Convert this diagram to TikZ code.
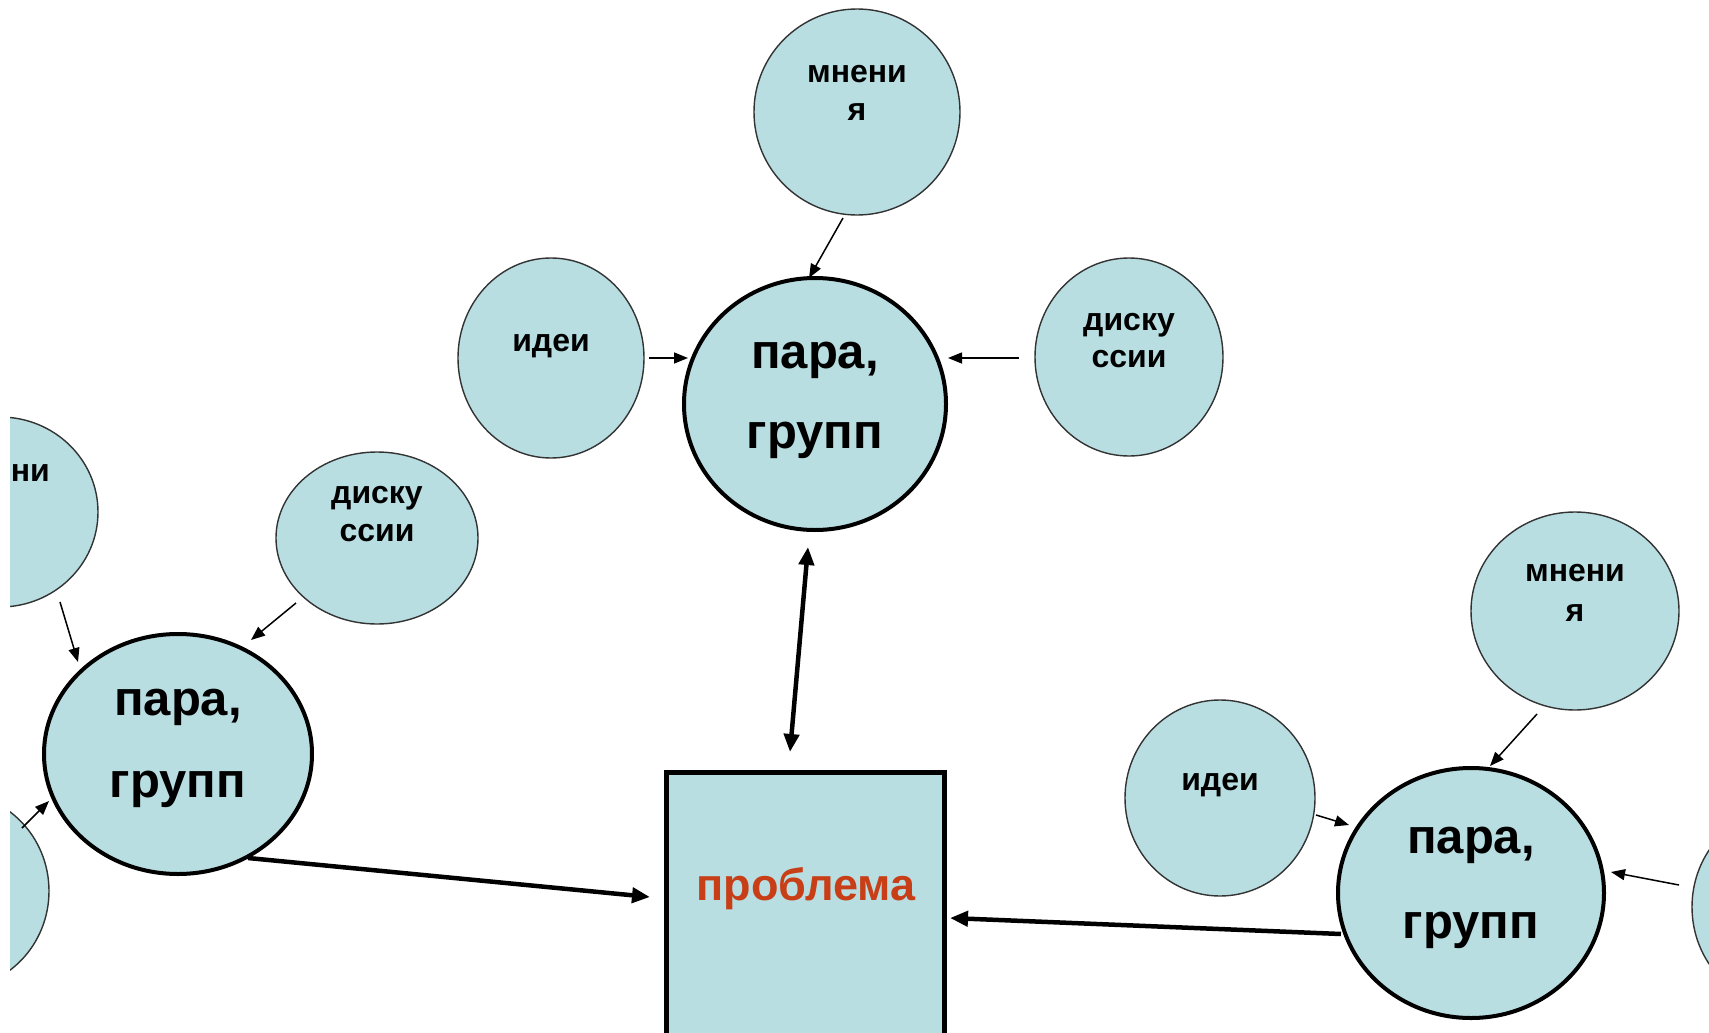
\documentclass[tikz,border=0pt]{standalone}
\usepackage{fontspec}
\setmainfont{Liberation Sans}
\usetikzlibrary{shapes.geometric,arrows.meta,calc}
\definecolor{cfill}{RGB}{184,222,226}
\definecolor{cred}{RGB}{200,62,22}
\begin{document}
\begin{tikzpicture}[x=1pt,y=-1pt,
 smallc/.style={ellipse, draw=black!80, line width=1.4pt, fill=cfill, inner sep=0pt},
 bigc/.style={ellipse, draw=black, line width=4pt, fill=cfill, inner sep=0pt},
 stxt/.style={font=\bfseries\fontsize{32}{38}\selectfont, anchor=base, inner sep=0pt},
 btxt/.style={font=\bfseries\fontsize{49}{56}\selectfont, anchor=base, inner sep=0pt},
 thinarr/.style={line width=1.5pt, -{Triangle[length=14pt,width=11pt]}},
 thickarr/.style={line width=4.5pt, -{Triangle[length=18pt,width=15pt]}},
 dblarr/.style={line width=4.5pt, {Triangle[length=18pt,width=15pt]}-{Triangle[length=18pt,width=15pt]}},
]
\useasboundingbox (0,0) rectangle (1709,1033);
\fill[white] (0,0) rectangle (1709,1033);
\begin{scope}
\clip (10,0) rectangle (1709,1033);
% top group
\node[smallc, minimum width=206pt, minimum height=206pt] (mt) at (857,112) {};
\node[smallc, minimum width=186pt, minimum height=200pt] (it) at (551,358) {};
\node[smallc, minimum width=188pt, minimum height=198pt] (dt) at (1129,357) {};
\node[bigc, minimum width=262pt, minimum height=252pt] (bt) at (815,404) {};
\node[stxt] (mt1) at (857,83) {мнени};
\node[stxt] (mt2) at (857,121) {я};
\node[stxt] (it1) at (551,351) {идеи};
\node[stxt] (dt1) at (1129,330) {диску};
\node[stxt] (dt2) at (1129,367) {ссии};
\node[btxt] (bt1) at (815,368) {пара,};
\node[btxt] (bt2) at (815,448) {групп};
% left group
\node[smallc, minimum width=196pt, minimum height=190pt] (ml) at (0,512) {};
\node[smallc, minimum width=202pt, minimum height=172pt] (dl) at (377,538) {};
\node[smallc, minimum width=190pt, minimum height=196pt] (il) at (-46,891) {};
\node[bigc, minimum width=268pt, minimum height=240pt] (bl) at (178,754) {};
\node[stxt] (ml1) at (0,481) {мнени};
\node[stxt] (ml2) at (0,519) {я};
\node[stxt] (dl1) at (377,503) {диску};
\node[stxt] (dl2) at (377,541) {ссии};
\node[btxt] (bl1) at (178,715) {пара,};
\node[btxt] (bl2) at (178,797) {групп};
% right group
\node[smallc, minimum width=208pt, minimum height=198pt] (mr) at (1575,611) {};
\node[smallc, minimum width=190pt, minimum height=196pt] (ir) at (1220,798) {};
\node[smallc, minimum width=188pt, minimum height=198pt] (dr) at (1786,907) {};
\node[bigc, minimum width=266pt, minimum height=250pt] (br) at (1471,893) {};
\node[stxt] (mr1) at (1575,581) {мнени};
\node[stxt] (mr2) at (1575,621) {я};
\node[stxt] (ir1) at (1220,790) {идеи};
\node[btxt] (br1) at (1471,853) {пара,};
\node[btxt] (br2) at (1471,938) {групп};
% problem box
\node[draw=black, line width=5pt, fill=cfill, minimum width=278pt, minimum height=268pt, inner sep=0pt] (pr) at (805,906) {};
\node[font=\bfseries\fontsize{45}{50}\selectfont, text=cred, inner sep=0pt] (prt) at (806,889) {проблема};
% arrows top
\draw[thinarr] ($(mt.center)+(-14,106)$) -- ($(bt.center)+(-6,-126)$);
\draw[thinarr] ($(it.center)+(98,0)$) -- ($(bt.center)+(-127,-46)$);
\draw[thinarr] ($(dt.center)+(-110,1)$) -- ($(bt.center)+(133,-46)$);
\draw[dblarr] ($(bt.center)+(-7,143)$) -- ($(pr.center)+(-15,-154)$);
% arrows left
\draw[thinarr] ($(ml.center)+(60,90)$) -- ($(bl.center)+(-100,-92)$);
\draw[thinarr] ($(dl.center)+(-81,65)$) -- ($(bl.center)+(73,-114)$);
\draw[thinarr] ($(il.center)+(68,-63)$) -- ($(bl.center)+(-129,47)$);
\draw[thickarr] ($(bl.center)+(70,104)$) -- ($(pr.center)+(-155,-9)$);
% arrows right
\draw[thinarr] ($(mr.center)+(-38,103)$) -- ($(br.center)+(19,-127)$);
\draw[thinarr] ($(ir.center)+(96,17)$) -- ($(br.center)+(-122,-68)$);
\draw[thinarr] ($(dr.center)+(-107,-22)$) -- ($(br.center)+(140,-21)$);
\draw[thickarr] ($(br.center)+(-130,41)$) -- ($(pr.center)+(145,12)$);
\end{scope}
\end{tikzpicture}
\end{document}
